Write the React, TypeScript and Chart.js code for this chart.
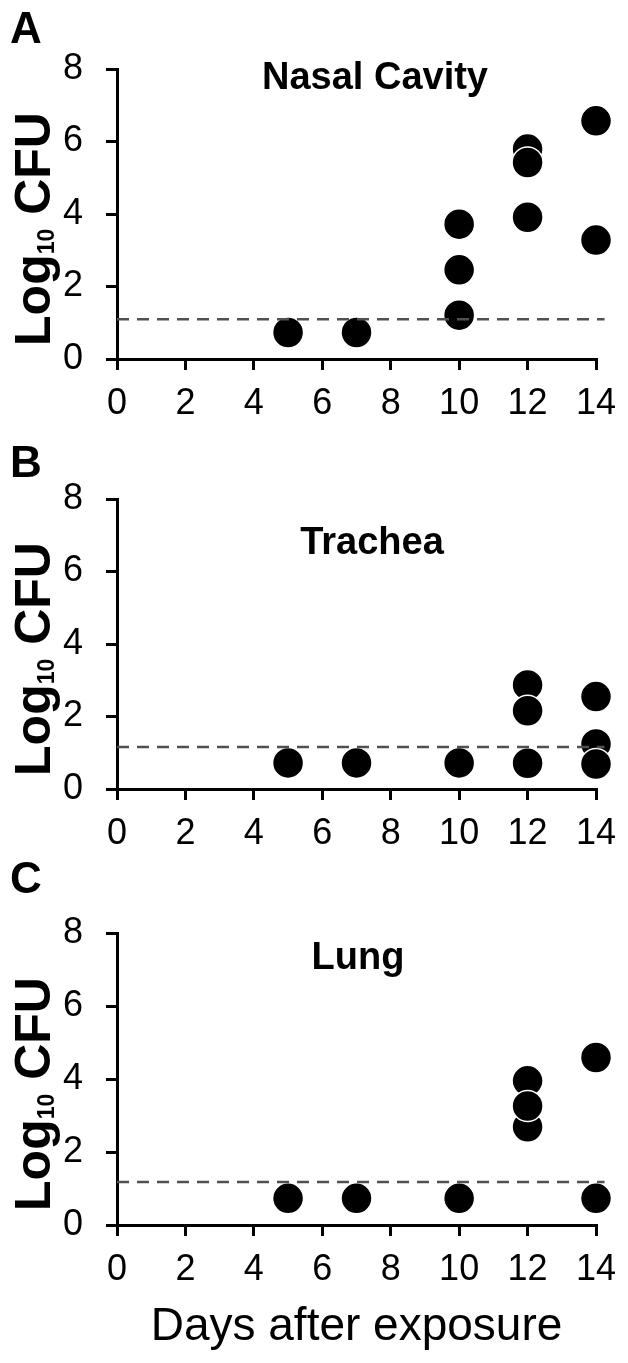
import React, { useEffect, useRef } from "react";
import { Chart, registerables } from "chart.js";

Chart.register(...registerables);

// ---------- data ----------
const xTicks = [0, 2, 4, 6, 8, 10, 12, 14];
const yTicks = [0, 2, 4, 6, 8];

const nasalDays = [5, 7, 10, 10, 10, 12, 12, 12, 14, 14];
const nasalLog = [0.73, 0.73, 3.72, 2.46, 1.21, 5.79, 5.42, 3.91, 6.57, 3.28];
const nasalLimit = 1.1;

const tracheaDays = [5, 7, 10, 12, 12, 12, 14, 14, 14];
const tracheaLog = [0.72, 0.72, 0.72, 2.87, 2.16, 0.71, 2.55, 1.24, 0.69];
const tracheaLimit = 1.16;

const lungDays = [5, 7, 10, 12, 12, 12, 14, 14];
const lungLog = [0.73, 0.73, 0.73, 3.95, 2.69, 3.26, 4.59, 0.73];
const lungLimit = 1.18;

const limitDays = [0, 14.25];

const panelLetters = ["A", "B", "C"];
const panelTitles = ["Nasal Cavity", "Trachea", "Lung"];
const yTitleMain = "Log";
const yTitleSub = "10";
const yTitleUnit = " CFU";
const xAxisTitle = "Days after exposure";

// ---------- layout (not data) ----------
const FONT = '"Liberation Sans", Arial, Helvetica, sans-serif';
const W = 628;
const PLOT_LEFT = 117;
const PLOT_RIGHT = 596;

type PanelLayout = {
  bandTop: number;
  bandHeight: number;
  plotTop: number; // relative to band
  plotBottom: number; // relative to band
  titleX: number;
  titleBaseline: number;
  letterBaseline: number;
  showXTitle: boolean;
  xTitleBaseline: number;
};

const layouts: PanelLayout[] = [
  { bandTop: 0, bandHeight: 440, plotTop: 69, plotBottom: 359, titleX: 375, titleBaseline: 89, letterBaseline: 43, showXTitle: false, xTitleBaseline: 0 },
  { bandTop: 440, bandHeight: 415, plotTop: 59, plotBottom: 349, titleX: 372, titleBaseline: 114, letterBaseline: 37, showXTitle: false, xTitleBaseline: 0 },
  { bandTop: 855, bandHeight: 508, plotTop: 78, plotBottom: 370, titleX: 358, titleBaseline: 114, letterBaseline: 38, showXTitle: true, xTitleBaseline: 485 },
];

const panelData = [
  { days: nasalDays, values: nasalLog, limit: nasalLimit },
  { days: tracheaDays, values: tracheaLog, limit: tracheaLimit },
  { days: lungDays, values: lungLog, limit: lungLimit },
];

function Panel({ index }: { index: number }) {
  const ref = useRef<HTMLCanvasElement | null>(null);
  const lay = layouts[index];
  const pd = panelData[index];

  useEffect(() => {
    if (!ref.current) return;
    const textPlugin = {
      id: "panelText" + index,
      afterDraw(chart: any) {
        const ctx = chart.ctx as CanvasRenderingContext2D;
        const area = chart.chartArea;
        ctx.save();
        ctx.fillStyle = "#000";
        // panel letter
        ctx.font = `bold 44px ${FONT}`;
        ctx.textAlign = "left";
        ctx.textBaseline = "alphabetic";
        ctx.fillText(panelLetters[index], 10, lay.letterBaseline);
        // title
        ctx.font = `bold 38px ${FONT}`;
        ctx.textAlign = "center";
        ctx.fillText(panelTitles[index], lay.titleX, lay.titleBaseline);
        // x-axis title
        if (lay.showXTitle) {
          ctx.font = `46px ${FONT}`;
          ctx.textAlign = "center";
          ctx.fillText(xAxisTitle, (area.left + area.right) / 2, lay.xTitleBaseline);
        }
        // y-axis title with subscript
        const cy = (area.top + area.bottom) / 2 + 15;
        ctx.translate(50, cy);
        ctx.rotate(-Math.PI / 2);
        ctx.textAlign = "left";
        const mainFont = `bold 50px ${FONT}`;
        const subFont = `bold 23px ${FONT}`;
        ctx.font = mainFont;
        const wMain = ctx.measureText(yTitleMain).width;
        const wUnit = ctx.measureText(yTitleUnit).width;
        ctx.font = subFont;
        const wSub = ctx.measureText(yTitleSub).width;
        const total = wMain + wSub + wUnit;
        let x0 = -total / 2;
        ctx.font = mainFont;
        ctx.fillText(yTitleMain, x0, 0);
        x0 += wMain;
        ctx.font = subFont;
        ctx.fillText(yTitleSub, x0, 4);
        x0 += wSub;
        ctx.font = mainFont;
        ctx.fillText(yTitleUnit, x0, 0);
        ctx.restore();
      },
    };

    const chart = new Chart(ref.current, {
      type: "scatter",
      data: {
        datasets: [
          {
            label: "limit",
            data: limitDays.map((d) => ({ x: d, y: pd.limit })),
            showLine: true,
            borderColor: "#505050",
            borderWidth: 2.5,
            borderDash: [12, 8],
            pointRadius: 0,
            clip: false,
          } as any,
          {
            label: "cfu",
            data: pd.days.map((d, i) => ({ x: d, y: pd.values[i] })),
            pointRadius: 15.5,
            pointHoverRadius: 15.5,
            backgroundColor: "#000",
            borderColor: "#fff",
            pointBorderWidth: 1.5,
            clip: false,
          } as any,
        ],
      },
      options: {
        responsive: false,
        animation: false,
        devicePixelRatio: 1,
        events: [],
        layout: {
          padding: { left: 0, right: W - PLOT_RIGHT, top: lay.plotTop, bottom: 0 },
        },
        plugins: {
          legend: { display: false },
          tooltip: { enabled: false },
          title: { display: false },
        },
        scales: {
          x: {
            type: "linear",
            min: 0,
            max: 14,
            afterBuildTicks: (scale: any) => {
              scale.ticks = xTicks.map((v) => ({ value: v }));
            },
            afterFit: (scale: any) => {
              scale.height = lay.bandHeight - lay.plotBottom;
              scale.paddingLeft = 0;
              scale.paddingRight = 0;
            },
            ticks: {
              color: "#000",
              font: { family: FONT, size: 36 },
              padding: 12,
              maxRotation: 0,
              autoSkip: false,
            },
            grid: {
              drawOnChartArea: false,
              drawTicks: true,
              tickLength: 11,
              color: "#000",
              tickColor: "#000",
              lineWidth: 3,
              tickWidth: 3,
            },
            border: { display: true, color: "#000", width: 3 },
          },
          y: {
            type: "linear",
            min: 0,
            max: 8,
            afterBuildTicks: (scale: any) => {
              scale.ticks = yTicks.map((v) => ({ value: v }));
            },
            afterFit: (scale: any) => {
              scale.width = PLOT_LEFT;
              scale.paddingTop = 0;
              scale.paddingBottom = 0;
            },
            ticks: {
              color: "#000",
              font: { family: FONT, size: 36 },
              padding: 23,
              autoSkip: false,
            },
            grid: {
              drawOnChartArea: false,
              drawTicks: true,
              tickLength: 11,
              color: "#000",
              tickColor: "#000",
              lineWidth: 3,
              tickWidth: 3,
            },
            border: { display: true, color: "#000", width: 3 },
          },
        },
      },
      plugins: [textPlugin],
    } as any);
    return () => chart.destroy();
  }, [index]);

  return (
    <canvas
      ref={ref}
      width={W}
      height={lay.bandHeight}
      style={{ position: "absolute", left: 0, top: lay.bandTop, width: W, height: lay.bandHeight, display: "block" }}
    />
  );
}

export default function App() {
  return (
    <div style={{ position: "absolute", left: 0, top: 0, width: W, height: 1363, background: "#fff", overflow: "hidden" }}>
      <Panel index={0} />
      <Panel index={1} />
      <Panel index={2} />
    </div>
  );
}
